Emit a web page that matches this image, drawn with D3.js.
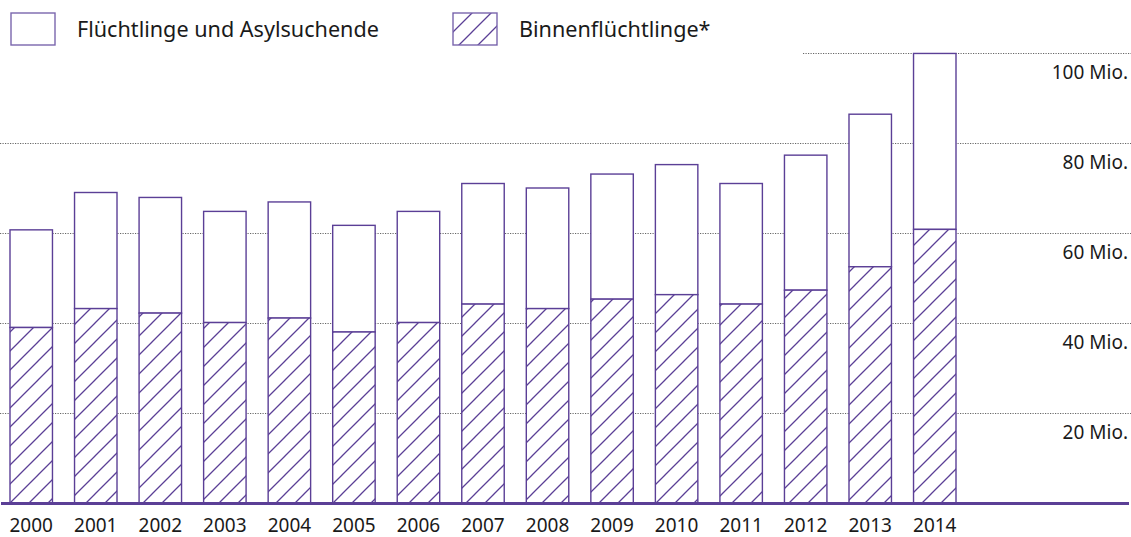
<!DOCTYPE html>
<html>
<head>
<meta charset="utf-8">
<script src="https://cdn.jsdelivr.net/npm/d3@7"></script>
<style>
  body { margin: 0; background: #fff; }
  text { font-family: "Noto Sans", sans-serif; fill: #1a1a1a; }
</style>
</head>
<body>
<div id="chart"></div>
<script>
// Data (millions of people).
const years = ["2000", "2001", "2002", "2003", "2004", "2005", "2006", "2007",
  "2008", "2009", "2010", "2011", "2012", "2013", "2014"];
const totalDisplaced = [60.7, 69.0, 67.9, 64.8, 66.9, 61.7, 64.8, 71.0,
  70.0, 73.1, 75.2, 71.0, 77.3, 86.4, 99.9];
const internallyDisplaced = [39.0, 43.2, 42.2, 40.1, 41.1, 38.0, 40.1, 44.2,
  43.2, 45.3, 46.3, 44.2, 47.3, 52.5, 60.8];
const yTicks = [20, 40, 60, 80, 100];
const legendLabels = ["Flüchtlinge und Asylsuchende", "Binnenflüchtlinge*"];

const purple = "#5b3f96";
const width = 1131, height = 537;

const svg = d3.select("#chart")
  .append("svg")
  .attr("width", width)
  .attr("height", height);

// Hatch pattern for the internally displaced part.
const step = 19;
svg.append("defs").append("pattern")
  .attr("id", "hatch")
  .attr("patternUnits", "userSpaceOnUse")
  .attr("width", step)
  .attr("height", step)
  .call(p => {
    p.append("rect").attr("width", step).attr("height", step).attr("fill", "#fff");
    p.append("path")
      .attr("d", `M-1,1 l2,-2 M0,${step} l${step},-${step} M${step - 1},${step + 1} l2,-2`)
      .attr("stroke", purple)
      .attr("stroke-width", 1.3);
  });

// Scales.
const x = d3.scaleBand()
  .domain(years)
  .range([10, 956])
  .paddingInner(0.342)
  .paddingOuter(0);

const y = d3.scaleLinear()
  .domain([0, 100])
  .range([503, 53]);

// Dotted grid lines (the top one only starts near the last bars).
svg.append("g")
  .selectAll("line")
  .data(yTicks)
  .join("line")
  .attr("x1", d => d === 100 ? 803 : 0)
  .attr("x2", width)
  .attr("y1", d => Math.round(y(d)) + 0.5)
  .attr("y2", d => Math.round(y(d)) + 0.5)
  .attr("stroke", "#666")
  .attr("stroke-width", 1)
  .attr("stroke-dasharray", "1.2,1.3");

// Axis labels on the right.
svg.append("g")
  .selectAll("text")
  .data(yTicks)
  .join("text")
  .attr("x", 1128)
  .attr("y", d => y(d) + 26)
  .attr("text-anchor", "end")
  .style("font-size", "19px")
  .text(d => d + " Mio.");

// Bars: refugees on top, internally displaced (hatched) below.
const bars = svg.append("g")
  .selectAll("g")
  .data(years)
  .join("g");

bars.append("rect")
  .attr("x", d => x(d))
  .attr("width", x.bandwidth())
  .attr("y", (d, i) => y(totalDisplaced[i]))
  .attr("height", (d, i) => y(internallyDisplaced[i]) - y(totalDisplaced[i]))
  .attr("fill", "#fff")
  .attr("stroke", purple)
  .attr("stroke-width", 1.4);

bars.append("rect")
  .attr("x", d => x(d))
  .attr("width", x.bandwidth())
  .attr("y", (d, i) => y(internallyDisplaced[i]))
  .attr("height", (d, i) => y(0) - y(internallyDisplaced[i]))
  .attr("fill", "url(#hatch)")
  .attr("stroke", purple)
  .attr("stroke-width", 1.4);

// Base line.
svg.append("line")
  .attr("x1", 1)
  .attr("x2", 1129)
  .attr("y1", y(0) + 0.5)
  .attr("y2", y(0) + 0.5)
  .attr("stroke", purple)
  .attr("stroke-width", 3);

// Year labels.
svg.append("g")
  .selectAll("text")
  .data(years)
  .join("text")
  .attr("x", d => x(d) + x.bandwidth() / 2)
  .attr("y", 532)
  .attr("text-anchor", "middle")
  .style("font-size", "19px")
  .text(d => d);

// Legend.
const legendX = [11, 453];
const legend = svg.append("g")
  .selectAll("g")
  .data(legendLabels)
  .join("g")
  .attr("transform", (d, i) => `translate(${legendX[i]}, 13)`);

legend.append("rect")
  .attr("width", 44)
  .attr("height", 32)
  .attr("fill", (d, i) => i === 0 ? "#fff" : "url(#hatch)")
  .attr("stroke", "#7a66ad")
  .attr("stroke-width", 1.4);

legend.append("text")
  .attr("x", 66)
  .attr("y", 24)
  .style("font-size", "21.6px")
  .text(d => d);
</script>
</body>
</html>
